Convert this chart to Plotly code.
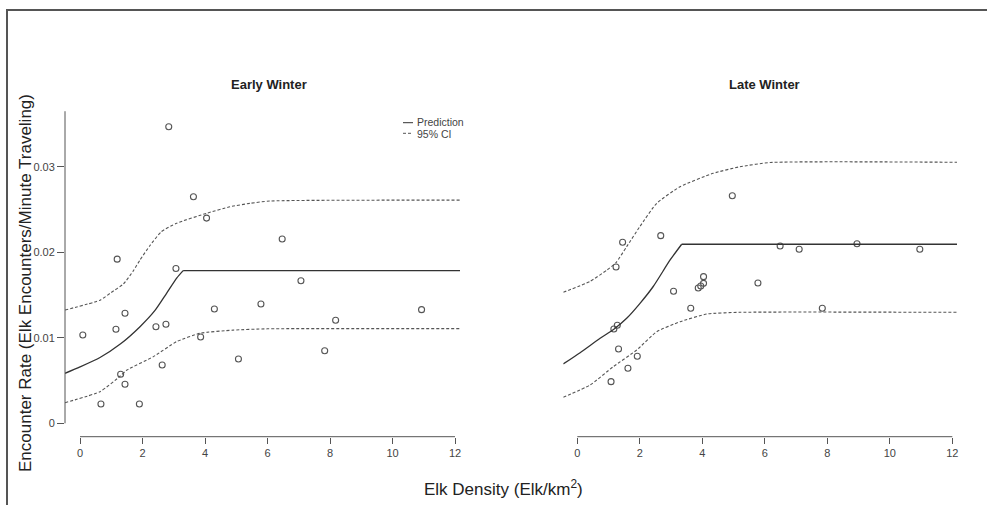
import plotly.graph_objects as go

# ---------------- data ----------------
early_x = [0.09, 0.67, 1.15, 1.19, 1.30, 1.44, 1.44, 1.90, 2.43, 2.63, 2.75, 2.84,
           3.07, 3.63, 3.86, 4.05, 4.30, 5.07, 5.79, 6.47, 7.07, 7.83, 8.18, 10.93]
early_y = [0.01033, 0.00226, 0.0110, 0.0192, 0.00573, 0.01287, 0.00456, 0.00226,
           0.0113, 0.00682, 0.01158, 0.03469, 0.0181, 0.0265, 0.0101, 0.0240,
           0.01337, 0.00752, 0.01395, 0.02156, 0.01668, 0.00849, 0.01205, 0.01329]

early_pred_x = [-0.48, 0.0, 0.64, 1.3, 1.92, 2.4, 2.77, 3.1, 3.3, 12.16]
early_pred_y = [0.00585, 0.0066, 0.0077, 0.0093, 0.0113, 0.0132, 0.0152, 0.0170, 0.01785, 0.01785]
early_up_x = [-0.48, 0.64, 1.0, 1.39, 1.7, 1.92, 2.24, 2.6, 3.09, 4.05, 4.8, 5.44, 6.08, 12.16]
early_up_y = [0.01325, 0.0144, 0.0153, 0.0163, 0.0178, 0.0191, 0.0208, 0.0224, 0.0234,
              0.02456, 0.02533, 0.02573, 0.0260, 0.0261]
early_lo_x = [-0.48, 0.64, 1.28, 1.49, 2.35, 3.09, 3.84, 4.9, 6.0, 12.16]
early_lo_y = [0.00241, 0.0037, 0.0055, 0.0062, 0.0078, 0.00955, 0.01053, 0.0109, 0.01105, 0.01107]

late_x = [1.08, 1.17, 1.24, 1.28, 1.32, 1.45, 1.62, 1.92, 2.67, 3.08, 3.63, 3.87, 3.95,
          4.04, 4.04, 4.96, 5.78, 6.49, 7.10, 7.84, 8.95, 10.96]
late_y = [0.00487, 0.01103, 0.01828, 0.01146, 0.00869, 0.02117, 0.00643, 0.00784,
          0.02195, 0.01544, 0.01345, 0.01582, 0.01606, 0.01637, 0.01715, 0.02662,
          0.01641, 0.02074, 0.02035, 0.01345, 0.02100, 0.02035]

late_pred_x = [-0.45, 0.09, 0.73, 1.17, 1.58, 2.0, 2.43, 2.97, 3.34, 12.15]
late_pred_y = [0.00694, 0.00826, 0.00994, 0.0110, 0.01228, 0.0140, 0.0160, 0.0191, 0.02094, 0.02094]
late_up_x = [-0.45, 0.41, 0.94, 1.24, 1.58, 2.0, 2.54, 3.29, 4.35, 5.2, 6.17, 12.15]
late_up_y = [0.01532, 0.0166, 0.0179, 0.0188, 0.02066, 0.0230, 0.02573, 0.02767,
             0.02924, 0.0300, 0.0305, 0.03053]
late_lo_x = [-0.45, 0.41, 1.15, 1.9, 2.54, 3.29, 4.14, 5.2, 12.15]
late_lo_y = [0.00304, 0.00448, 0.00662, 0.00857, 0.01071, 0.01188, 0.01278, 0.01298, 0.01298]

x_ticks = [0, 2, 4, 6, 8, 10, 12]
y_ticks = [0, 0.01, 0.02, 0.03]
y_tick_text = ["0", "0.01", "0.02", "0.03"]

# ---------------- layout helpers ----------------
W, H = 987, 505
def px(v): return v / W
def py(v): return 1 - v / H

LINE = "#333333"
DASH = "#555555"
PT = "#555555"
TXT = "#222222"

fig = go.Figure()

def add_panel(xa, ya, pts_x, pts_y, px_, py_, ux, uy, lx, ly):
    fig.add_trace(go.Scatter(x=pts_x, y=pts_y, mode="markers", xaxis=xa, yaxis=ya,
                             marker=dict(symbol="circle-open", size=6, color=PT,
                                         line=dict(width=1.1, color=PT)),
                             showlegend=False, hoverinfo="skip"))
    # prediction: smooth rising part, then flat plateau
    k = len(px_) - 1
    fig.add_trace(go.Scatter(x=px_[:k], y=py_[:k], mode="lines", xaxis=xa, yaxis=ya,
                             line=dict(color=LINE, width=1.3, shape="spline", smoothing=0.6),
                             showlegend=False))
    fig.add_trace(go.Scatter(x=px_[k - 1:], y=py_[k - 1:], mode="lines", xaxis=xa, yaxis=ya,
                             line=dict(color=LINE, width=1.3), showlegend=False))
    for cx, cy in ((ux, uy), (lx, ly)):
        fig.add_trace(go.Scatter(x=cx, y=cy, mode="lines", xaxis=xa, yaxis=ya,
                                 line=dict(color=DASH, width=1.1, dash="3px,2px",
                                           shape="spline", smoothing=0.5),
                                 showlegend=False))

add_panel("x", "y", early_x, early_y, early_pred_x, early_pred_y,
          early_up_x, early_up_y, early_lo_x, early_lo_y)
add_panel("x2", "y2", late_x, late_y, late_pred_x, late_pred_y,
          late_up_x, late_up_y, late_lo_x, late_lo_y)

ydom = [py(436.7), py(111)]
yrng = [-0.001567, 0.036526]
tickfont = dict(family="Liberation Sans, Arial, sans-serif", size=11, color="#444444")

xcommon = dict(tickmode="array", tickvals=x_ticks, ticks="outside", ticklen=6,
               tickwidth=1, tickcolor="#555555", showline=False, showgrid=False,
               zeroline=False, tickfont=tickfont, fixedrange=True)

fig.update_layout(
    width=W, height=H,
    margin=dict(l=0, r=0, t=0, b=0),
    paper_bgcolor="white", plot_bgcolor="white",
    xaxis=dict(domain=[px(65), px(460)], range=[-0.48, 12.16], anchor="y", **xcommon),
    xaxis2=dict(domain=[px(563.3), px(957)], range=[-0.448, 12.15], anchor="y2", **xcommon),
    yaxis=dict(domain=ydom, range=yrng, anchor="x", tickmode="array", tickvals=y_ticks,
               ticktext=y_tick_text, ticks="outside", ticklen=7, tickwidth=1,
               tickcolor="#555555", showline=False, showgrid=False, zeroline=False,
               tickfont=tickfont, fixedrange=True),
    yaxis2=dict(domain=ydom, range=yrng, anchor="x2", visible=False, fixedrange=True),
    showlegend=False,
)

shapes = []
# R-style axis lines spanning first to last tick
shapes.append(dict(type="line", xref="x", yref="paper", x0=0, x1=12, y0=ydom[0], y1=ydom[0],
                   line=dict(color="#555555", width=1)))
shapes.append(dict(type="line", xref="x2", yref="paper", x0=0, x1=12, y0=ydom[0], y1=ydom[0],
                   line=dict(color="#555555", width=1)))
shapes.append(dict(type="line", xref="paper", yref="y", x0=px(65), x1=px(65), y0=0, y1=0.0365,
                   line=dict(color="#555555", width=1)))
# figure frame
shapes.append(dict(type="line", xref="paper", yref="paper", x0=px(6), x1=1, y0=py(10), y1=py(10),
                   line=dict(color="#555555", width=2)))
shapes.append(dict(type="line", xref="paper", yref="paper", x0=px(7), x1=px(7), y0=py(10), y1=0,
                   line=dict(color="#555555", width=2)))
# legend keys
shapes.append(dict(type="line", xref="paper", yref="paper", x0=px(403), x1=px(413),
                   y0=py(122.7), y1=py(122.7), line=dict(color=LINE, width=1)))
shapes.append(dict(type="line", xref="paper", yref="paper", x0=px(403), x1=px(413),
                   y0=py(133.3), y1=py(133.3), line=dict(color=DASH, width=1, dash="3px,2px")))
fig.update_layout(shapes=shapes)

font = "Liberation Sans, Arial, sans-serif"
ann = [
    dict(text="<b>Early Winter</b>", x=px(269), y=py(84), font=dict(family=font, size=13, color=TXT)),
    dict(text="<b>Late Winter</b>", x=px(764), y=py(84), font=dict(family=font, size=13, color=TXT)),
    dict(text="Prediction", x=px(415), y=py(122.2), xanchor="left",
         font=dict(family=font, size=10.5, color="#444444")),
    dict(text="95% CI", x=px(415), y=py(133.6), xanchor="left",
         font=dict(family=font, size=10.5, color="#444444")),
    dict(text="Elk Density (Elk/km<sup>2</sup>)", x=px(504), y=py(488),
         font=dict(family=font, size=17, color=TXT)),
    dict(text="Encounter Rate (Elk Encounters/Minute Traveling)", x=px(25), y=py(283),
         textangle=-90, font=dict(family=font, size=17, color=TXT)),
]
for a in ann:
    a.setdefault("xanchor", "center")
    a.update(xref="paper", yref="paper", yanchor="middle", showarrow=False)
fig.update_layout(annotations=ann)

fig.write_html("out.html", config={"displayModeBar": False, "staticPlot": True},
               post_script="document.body.style.margin='0';document.body.style.overflow='hidden';")
